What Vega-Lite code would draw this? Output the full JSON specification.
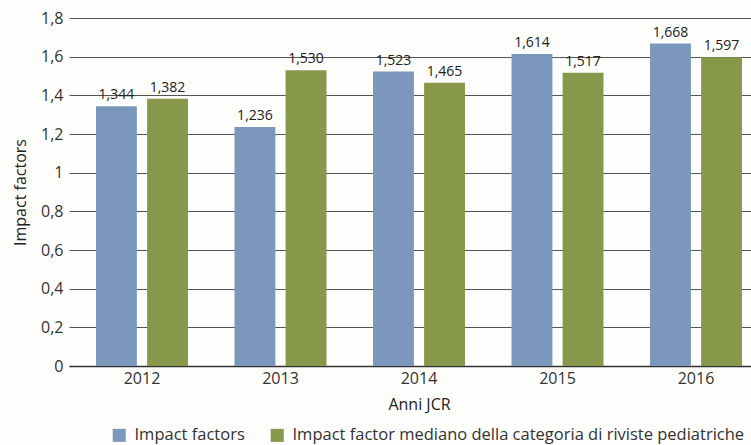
{
  "$schema": "https://vega.github.io/schema/vega-lite/v6.json",
  "autosize": {"type": "none"},
  "width": 700,
  "height": 348,
  "padding": {"left": 69, "top": 18, "right": 0, "bottom": 79},
  "background": "#fdfdfc",
  "config": {
    "locale": {"number": {"decimal": ",", "thousands": ".", "grouping": [3], "currency": ["€", ""]}},
    "font": "Open Sans",
    "view": {"stroke": null}
  },
  "data": {
    "values": [
      {"anno": "2012", "serie": "Impact factors", "valore": 1.344},
      {"anno": "2012", "serie": "Impact factor mediano della categoria di riviste pediatriche", "valore": 1.382},
      {"anno": "2013", "serie": "Impact factors", "valore": 1.236},
      {"anno": "2013", "serie": "Impact factor mediano della categoria di riviste pediatriche", "valore": 1.530},
      {"anno": "2014", "serie": "Impact factors", "valore": 1.523},
      {"anno": "2014", "serie": "Impact factor mediano della categoria di riviste pediatriche", "valore": 1.465},
      {"anno": "2015", "serie": "Impact factors", "valore": 1.614},
      {"anno": "2015", "serie": "Impact factor mediano della categoria di riviste pediatriche", "valore": 1.517},
      {"anno": "2016", "serie": "Impact factors", "valore": 1.668},
      {"anno": "2016", "serie": "Impact factor mediano della categoria di riviste pediatriche", "valore": 1.597}
    ]
  },
  "encoding": {
    "x": {
      "field": "anno", "type": "nominal",
      "scale": {"paddingInner": 0.336, "paddingOuter": 0.195},
      "axis": {"title": "Anni JCR", "labelAngle": 0, "labelFontSize": 16, "labelColor": "#333", "labelPadding": 4,
               "titleFontSize": 16, "titleFontWeight": "normal", "titleColor": "#222", "titlePadding": 10,
               "ticks": false, "domainColor": "#333", "domainWidth": 1.5}
    },
    "xOffset": {
      "field": "serie", "type": "nominal",
      "sort": ["Impact factors", "Impact factor mediano della categoria di riviste pediatriche"],
      "scale": {"paddingInner": 0.2, "paddingOuter": 0}
    },
    "y": {
      "field": "valore", "type": "quantitative",
      "scale": {"domain": [0, 1.8]},
      "axis": {"title": "Impact factors", "values": [0, 0.2, 0.4, 0.6, 0.8, 1, 1.2, 1.4, 1.6, 1.8], "format": "~g",
               "labelFontSize": 16, "labelColor": "#333", "labelPadding": 6, "ticks": false, "domain": false,
               "gridColor": "#555", "gridWidth": 1.2,
               "titleFontSize": 16, "titleFontWeight": "normal", "titleColor": "#222", "titlePadding": 12}
    }
  },
  "layer": [
    {
      "mark": {"type": "bar"},
      "encoding": {
        "color": {
          "field": "serie", "type": "nominal",
          "sort": ["Impact factors", "Impact factor mediano della categoria di riviste pediatriche"],
          "scale": {"domain": ["Impact factors", "Impact factor mediano della categoria di riviste pediatriche"], "range": ["#7b97bc", "#87984a"]},
          "legend": {"title": null, "orient": "none", "legendX": 42, "legendY": 409, "direction": "horizontal", "symbolType": "square", "symbolSize": 170,
                     "symbolStrokeWidth": 0, "labelFontSize": 16.5, "labelColor": "#333", "columnPadding": 24, "labelOffset": 7, "labelLimit": 700}
        }
      }
    },
    {
      "mark": {"type": "text", "dy": -11, "fontSize": 14, "color": "#222"},
      "encoding": {"text": {"field": "valore", "type": "quantitative", "format": ".3f"}}
    }
  ]
}
